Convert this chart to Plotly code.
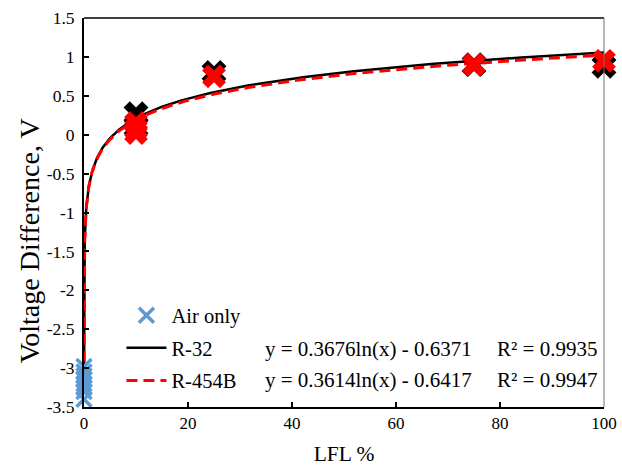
import numpy as np
import plotly.graph_objects as go

# Data
air_x = [0, 0, 0, 0, 0, 0, 0, 0]
air_y = [-2.98, -3.05, -3.1, -3.15, -3.2, -3.25, -3.3, -3.4]

r32_x = [10, 10, 25, 75, 100]
r32_y = [0.27, 0.1, 0.8, 0.9, 0.88]

r454b_x = [10, 10, 10, 25, 75, 100]
r454b_y = [0.15, 0.07, 0.02, 0.75, 0.9, 0.95]

# Trendline coefficients (y = a ln(x) + b), as printed on the chart
r32_coef = [0.3676, -0.6371]
r454b_coef = [0.3614, -0.6417]
r32_eq = "y = 0.3676ln(x) - 0.6371"
r454b_eq = "y = 0.3614ln(x) - 0.6417"
r32_r2 = "R² = 0.9935"
r454b_r2 = "R² = 0.9947"

y_ticks = [-3.5, -3, -2.5, -2, -1.5, -1, -0.5, 0, 0.5, 1, 1.5]
y_tick_text = ["-3.5", "-3", "-2.5", "-2", "-1.5", "-1", "-0.5", "0", "0.5", "1", "1.5"]
x_ticks = [0, 20, 40, 60, 80, 100]

fit_x = np.logspace(np.log10(0.001), 2, 400)

font = "Liberation Serif, Times New Roman, serif"

fig = go.Figure()

fig.add_trace(go.Scatter(
    x=fit_x, y=r32_coef[0] * np.log(fit_x) + r32_coef[1],
    mode="lines", line=dict(color="black", width=2.5), name="R-32",
    legendrank=2, legendgroup="b"))
fig.add_trace(go.Scatter(
    x=fit_x, y=r454b_coef[0] * np.log(fit_x) + r454b_coef[1],
    mode="lines", line=dict(color="#FF0000", width=3, dash="11px,6px"), name="R-454B",
    legendrank=3, legendgroup="c"))

fig.add_trace(go.Scatter(
    x=r32_x, y=r32_y, mode="markers", showlegend=False, cliponaxis=False,
    marker=dict(symbol="x", size=22, color="black", line=dict(width=0))))
fig.add_trace(go.Scatter(
    x=r454b_x, y=r454b_y, mode="markers", showlegend=False, cliponaxis=False,
    marker=dict(symbol="x", size=21, color="#FF0000", line=dict(width=0))))
fig.add_trace(go.Scatter(
    x=air_x, y=air_y, mode="markers", name="Air only", cliponaxis=False,
    legendrank=1, legendgroup="a",
    marker=dict(symbol="x-thin", size=15, color="#5B9BD5",
                line=dict(width=3.5, color="#5B9BD5"))))

fig.update_layout(
    width=622, height=466,
    margin=dict(l=84, r=18, t=18, b=59, autoexpand=False),
    plot_bgcolor="white", paper_bgcolor="white",
    font=dict(family=font, size=17, color="black"),
    legend=dict(
        x=0.072, y=0.287, xanchor="left", yanchor="top",
        bgcolor="rgba(0,0,0,0)", font=dict(family=font, size=20.5),
        traceorder="grouped", itemwidth=40, tracegroupgap=3),
    xaxis=dict(
        range=[0, 100], tickvals=x_ticks, ticks="inside", ticklen=5,
        tickcolor="black", tickwidth=1.5,
        showgrid=False, zeroline=False, showline=True, linecolor="black",
        linewidth=2, mirror=False, automargin=False,
        title=dict(text="LFL %", font=dict(size=21.5), standoff=14),
        tickfont=dict(size=17)),
    yaxis=dict(
        range=[-3.5, 1.5], tickvals=y_ticks, ticktext=y_tick_text,
        ticks="inside", ticklen=5, tickcolor="black", tickwidth=1.5,
        ticklabelstandoff=4,
        showgrid=False, zeroline=False, automargin=False,
        showline=True, linecolor="black", linewidth=2, mirror=False,
        tickfont=dict(size=17.5)),
)

# top and right frame lines
fig.add_shape(type="line", xref="paper", yref="paper", x0=0, x1=1, y0=1, y1=1,
              line=dict(color="black", width=1.5))
fig.add_shape(type="line", xref="paper", yref="paper", x0=1, x1=1, y0=0, y1=1,
              line=dict(color="#707070", width=1))

# y-axis title
fig.add_annotation(text="Voltage Difference, V", x=-0.105, y=0.427,
                   xref="paper", yref="paper", textangle=-90, showarrow=False,
                   xanchor="center", yanchor="middle",
                   font=dict(family=font, size=28))

ann = [
    (r32_eq, 0.344, 0.149),
    (r454b_eq, 0.344, 0.069),
    (r32_r2, 0.79, 0.149),
    (r454b_r2, 0.79, 0.069),
]
for text, ax_, ay_ in ann:
    fig.add_annotation(text=text, x=ax_, y=ay_, xref="paper", yref="paper",
                       xanchor="left", yanchor="middle", showarrow=False,
                       font=dict(family=font, size=21))

fig.write_html("out.html", config={"displayModeBar": False},
               post_script="document.body.style.margin='0';")
